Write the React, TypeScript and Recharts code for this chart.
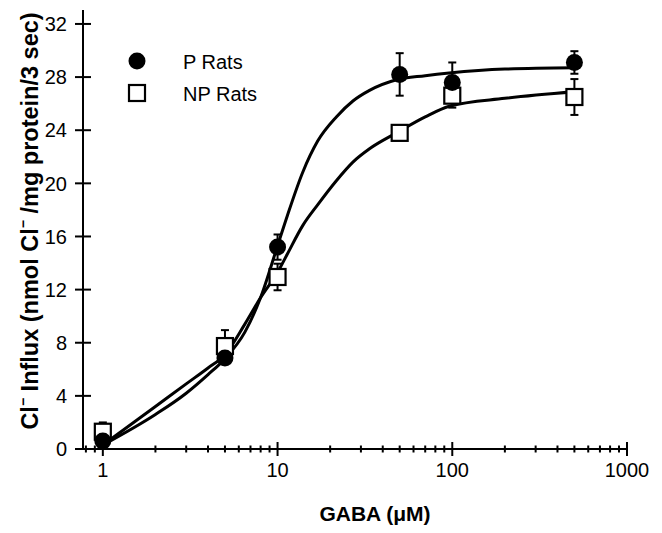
import React from 'react';
import { ComposedChart, XAxis, YAxis, Scatter, Line, ErrorBar, Legend } from 'recharts';

// Measured points (GABA concentration, µM)
const doses = [1, 5, 10, 50, 100, 500];
const pRatsMean = [0.6, 6.85, 15.2, 28.2, 27.6, 29.1];
const pRatsSem = [0.3, 0.3, 0.95, 1.6, 1.5, 0.85];
const npRatsMean = [1.3, 7.75, 12.95, 23.8, 26.6, 26.5];
const npRatsSem = [0.7, 1.2, 1.0, 0.5, 0.9, 1.35];

// Fitted curves
const curveX = [1, 2, 3, 4, 5, 6.5, 8, 10, 11.4, 13.9, 17, 21.7, 27, 33.6, 48, 70, 96, 200, 500];
const pRatsCurve = [0.3, 2.6, 4.2, 5.6, 6.8, 8.8, 11.4, 15.3, 17.6, 20.8, 23.2, 25.0, 26.2, 27.0, 27.8, 28.1, 28.3, 28.6, 28.7];
const npRatsCurve = [0.3, 3.2, 4.9, 6.1, 7.1, 9.4, 11.4, 13.3, 14.7, 16.8, 18.4, 20.2, 21.6, 22.6, 23.8, 25.0, 25.8, 26.4, 26.9];

// Axis ticks
const xTicks = [0.8, 0.9, 1, 2, 3, 4, 5, 6, 7, 8, 9, 10, 20, 30, 40, 50, 60, 70, 80, 90, 100, 200, 300, 400, 500, 600, 700, 800, 900, 1000];
const xMajor = [1, 10, 100, 1000];
const yTicks = [0, 4, 8, 12, 16, 20, 24, 28, 32];

const pData = doses.map((x, i) => ({ x, y: pRatsMean[i], err: pRatsSem[i] }));
const npData = doses.map((x, i) => ({ x, y: npRatsMean[i], err: npRatsSem[i] }));
const pCurveData = curveX.map((x, i) => ({ x, y: pRatsCurve[i] }));
const npCurveData = curveX.map((x, i) => ({ x, y: npRatsCurve[i] }));

const FONT = '"Liberation Sans", Arial, Helvetica, sans-serif';

const XTick = (props: any) => {
  const { x, y, payload } = props;
  const v = payload.value;
  const major = xMajor.includes(v);
  const h = major ? 7 : 3.5;
  return (
    <g>
      <line x1={x} x2={x} y1={y - h} y2={y + h} stroke="#000" strokeWidth={2} />
      {major && (
        <text x={x} y={y + 28} textAnchor="middle" fontSize={20} fontFamily={FONT} fill="#000">
          {v}
        </text>
      )}
    </g>
  );
};

const YTick = (props: any) => {
  const { x, y, payload } = props;
  return (
    <g>
      <line x1={x - 8} x2={x + 8} y1={y} y2={y} stroke="#000" strokeWidth={2} />
      <text x={x - 16} y={y} dy="0.36em" textAnchor="end" fontSize={20} fontFamily={FONT} fill="#000">
        {payload.value}
      </text>
    </g>
  );
};

const CircleShape = (p: any) => <circle cx={p.cx} cy={p.cy} r={8.5} fill="#000" />;
const SquareShape = (p: any) => (
  <rect x={p.cx - 8} y={p.cy - 8} width={16} height={16} fill="#fff" stroke="#000" strokeWidth={2.2} />
);

const LegendContent = () => (
  <svg width={200} height={80}>
    <circle cx={37} cy={21} r={8.5} fill="#000" />
    <rect x={29} y={45} width={16} height={16} fill="#fff" stroke="#000" strokeWidth={2.2} />
    <text x={83} y={29} fontSize={20} fontFamily={FONT} fill="#000">P Rats</text>
    <text x={83} y={61} fontSize={20} fontFamily={FONT} fill="#000">NP Rats</text>
  </svg>
);

const XLabel = () => (
  <text x={375} y={521} textAnchor="middle" fontSize={21} fontWeight="bold" fontFamily={FONT} fill="#000">
    GABA (μM)
  </text>
);

const YLabel = () => (
  <text
    transform="translate(30,221) rotate(-90)"
    textAnchor="middle"
    dy="0.36em"
    fontSize={23.5}
    fontWeight="bold"
    fontFamily={FONT}
    fill="#000"
  >
    Cl
    <tspan dy={-10} fontSize={14}>−</tspan>
    <tspan dy={10}>{'  Influx (nmol Cl'}</tspan>
    <tspan dy={-10} fontSize={14}>−</tspan>
    <tspan dy={10}>{'  /mg protein/3 sec)'}</tspan>
  </text>
);

export default function App() {
  return (
    <div style={{ position: 'absolute', left: 0, top: 0, background: '#fff' }}>
      <ComposedChart width={662} height={533} margin={{ top: 10, right: 35, bottom: 44, left: 23 }}>
        <XAxis
          dataKey="x"
          type="number"
          scale="log"
          domain={[0.77, 1000]}
          allowDataOverflow
          ticks={xTicks}
          interval={0}
          tick={<XTick />}
          tickLine={false}
          tickSize={0}
          tickMargin={0}
          height={40}
          axisLine={{ stroke: '#000', strokeWidth: 2 }}
          label={{ content: <XLabel /> }}
        />
        <YAxis
          type="number"
          domain={[0, 33.05]}
          allowDataOverflow
          ticks={yTicks}
          interval={0}
          tick={<YTick />}
          tickLine={false}
          tickSize={0}
          tickMargin={0}
          width={60}
          axisLine={{ stroke: '#000', strokeWidth: 2 }}
          label={{ content: <YLabel /> }}
        />
        <Legend
          layout="vertical"
          align="center"
          verticalAlign="middle"
          content={<LegendContent />}
          wrapperStyle={{ left: 100, top: 40, width: 200, height: 80 }}
        />
        <Scatter name="NP Rats" data={npData} dataKey="y" shape={<SquareShape />} isAnimationActive={false}>
          <ErrorBar dataKey="err" direction="y" width={4} strokeWidth={2} stroke="#000" isAnimationActive={false} />
        </Scatter>
        <Scatter name="P Rats" data={pData} dataKey="y" shape={<CircleShape />} isAnimationActive={false}>
          <ErrorBar dataKey="err" direction="y" width={4} strokeWidth={2} stroke="#000" isAnimationActive={false} />
        </Scatter>
        <Line data={pCurveData} dataKey="y" type="monotone" stroke="#000" strokeWidth={3} dot={false} activeDot={false} isAnimationActive={false} legendType="none" />
        <Line data={npCurveData} dataKey="y" type="monotone" stroke="#000" strokeWidth={3} dot={false} activeDot={false} isAnimationActive={false} legendType="none" />
      </ComposedChart>
    </div>
  );
}
